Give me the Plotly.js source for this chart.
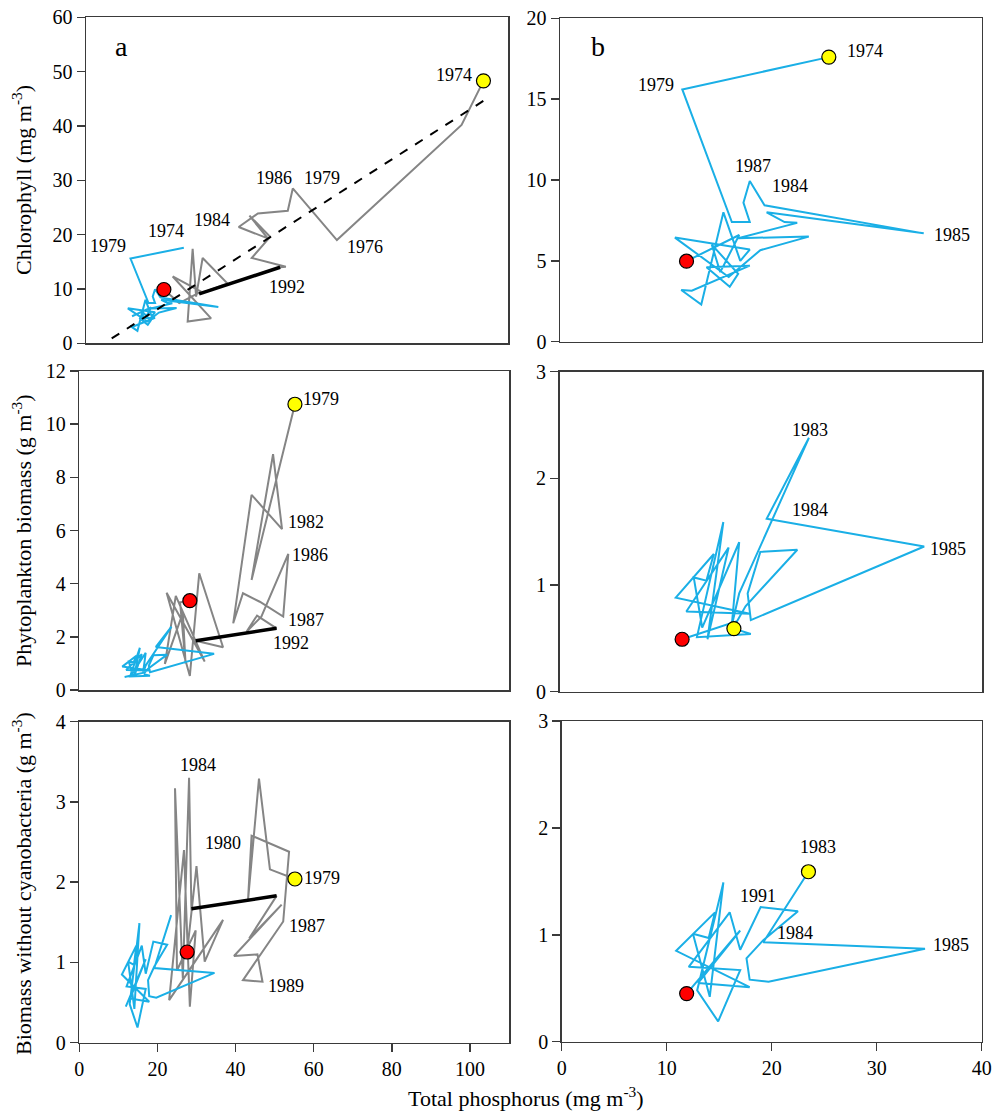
<!DOCTYPE html>
<html><head><meta charset="utf-8">
<script src="https://cdn.plot.ly/plotly-3.0.1.min.js"></script>
<style>html,body{margin:0;padding:0;background:#fff}</style>
</head><body><div id="chart" style="width:996px;height:1114px"></div>
<script>
// ---- Lake b (blue) trajectories, reused in panels a ----
const blueTP_chl = [25.5, 11.6, 16.3, 18.0, 17.4, 18.0, 19.4, 34.5, 19.6, 21.3, 22.5, 16.9, 23.6, 19.0, 16.0, 10.9, 18.0, 17.1, 15.5, 13.4, 11.5, 12.5, 18.0, 13.9, 16.1, 16.9, 14.4, 15.2, 17.0, 12.0];
const blueChl    = [17.6, 15.6, 7.4, 7.4, 8.6, 9.94, 8.44, 6.7, 8.0, 7.4, 7.35, 6.4, 6.5, 5.66, 4.0, 6.44, 5.7, 5.0, 8.0, 2.3, 3.2, 3.15, 4.7, 4.6, 3.4, 4.2, 6.0, 4.3, 6.6, 4.98];

const blueTP_bio = [16.5, 18.1, 13.0, 15.5, 14.0, 16.0, 12.0, 18.0, 11.0, 14.6, 13.9, 12.7, 13.5, 17.0, 16.3, 17.0, 23.6, 19.6, 34.5, 18.1, 17.8, 19.0, 22.5, 17.6, 16.8, 11.6];
const blueBio    = [0.59, 0.54, 0.51, 1.59, 0.49, 1.35, 0.75, 0.73, 0.88, 1.29, 1.04, 1.07, 0.60, 1.40, 0.62, 0.92, 2.38, 1.62, 1.36, 0.67, 0.92, 1.31, 1.33, 0.80, 0.66, 0.49];

const blueTP_nc  = [23.5, 19.2, 34.6, 19.7, 17.9, 17.6, 19.2, 22.5, 18.95, 17.0, 16.0, 12.1, 17.0, 14.9, 12.9, 15.4, 14.1, 12.5, 14.0, 14.6, 10.9, 17.9, 13.0, 17.0, 11.9];
const blueNc     = [1.59, 0.93, 0.87, 0.56, 0.58, 0.78, 0.95, 1.22, 1.26, 0.86, 1.21, 0.70, 0.67, 0.19, 0.48, 1.49, 0.42, 1.01, 0.97, 1.21, 0.85, 0.51, 0.55, 1.04, 0.45];

// ---- Lake a (grey) trajectories; the black segment joins point k and k+1 ----
const greyTP_chl = [103.6, 97.9, 65.4, 53.9, 52.6, 44.8, 39.8, 47.4, 42.6, 48.0, 43.2, 52.1, 50.6, 29.5, 36.9, 30.4, 28.7, 27.8, 26.5, 32.6, 22.6, 30.0, 24.3, 20.3];
const greyChl    = [48.3, 40.2, 19.0, 28.5, 24.4, 23.9, 21.4, 19.3, 23.5, 19.6, 15.7, 14.1, 14.0, 9.1, 11.0, 15.7, 8.6, 17.4, 4.0, 4.6, 12.3, 9.5, 7.4, 9.9];
const blackIdxChl = 12;

const greyTP_bio = [55.2, 44.1, 49.6, 51.9, 44.1, 39.4, 41.9, 46.2, 52.2, 53.5, 46.6, 42.8, 45.5, 50.5, 29.8, 36.8, 30.7, 28.3, 22.35, 32.1, 24.7, 21.9, 26.5, 27.2, 25.8, 28.3];
const greyBio    = [10.75, 4.14, 8.87, 6.05, 7.34, 2.51, 3.64, 3.32, 2.76, 5.12, 2.76, 2.19, 2.8, 2.32, 1.85, 1.61, 4.39, 0.53, 3.66, 1.07, 3.54, 0.98, 2.9, 1.0, 3.3, 3.36];
const blackIdxBio = 13;

const greyTP_nc  = [55.2, 48.8, 46.0, 43.2, 44.1, 53.7, 52.2, 41.9, 46.9, 45.6, 39.6, 51.8, 43.5, 50.5, 28.7, 28.1, 26.5, 24.5, 25.0, 29.8, 28.3, 26.8, 23.0, 36.8, 32.1, 30.0, 27.6];
const greyNc     = [2.04, 2.16, 3.29, 1.78, 2.58, 2.38, 1.51, 0.78, 0.76, 1.10, 1.08, 1.72, 1.30, 1.83, 1.67, 3.30, 0.80, 3.17, 0.90, 1.40, 0.45, 2.40, 0.53, 1.53, 1.01, 2.20, 1.13];
const blackIdxNc = 13;

// regression line (panel a, chlorophyll)
const regTP  = [6.7, 104.0];
const regChl = [0.9, 44.8];

// year labels [text, TP, value]
const labelsTL = [['1974',95.8,49.4],['1986',49.0,30.4],['1979',61.4,30.4],['1984',32.8,22.7],['1974',20.9,20.6],['1979',5.8,17.9],['1976',72.7,17.8],['1992',52.3,10.4]];
const labelsTR = [['1974',28.9,17.96],['1979',9.1,15.9],['1987',18.3,10.85],['1984',21.8,9.6],['1985',37.2,6.57]];
const labelsML = [['1979',62.0,10.94],['1982',58.0,6.33],['1986',59.0,5.08],['1987',58.0,2.63],['1992',54.1,1.78]];
const labelsMR = [['1983',23.7,2.45],['1984',23.7,1.70],['1985',36.8,1.34]];
const labelsBL = [['1984',30.3,3.46],['1980',36.7,2.49],['1979',62.2,2.05],['1987',58.3,1.46],['1989',53.0,0.71]];
const labelsBR = [['1983',24.4,1.82],['1991',18.7,1.36],['1984',22.2,1.02],['1985',37.1,0.90]];

const FONT = 'Liberation Serif';
const BLUE = '#1AAFE6', GREY = '#858585';
const traces = [];
function line(x, y, n, color, width, dash) {
  traces.push({x: x, y: y, xaxis: 'x' + (n === 1 ? '' : n), yaxis: 'y' + (n === 1 ? '' : n),
    type: 'scatter', mode: 'lines', line: {color: color, width: width, dash: dash || 'solid'},
    hoverinfo: 'skip', showlegend: false});
}
function dot(x, y, n, color) {
  traces.push({x: [x], y: [y], xaxis: 'x' + (n === 1 ? '' : n), yaxis: 'y' + (n === 1 ? '' : n),
    type: 'scatter', mode: 'markers', marker: {color: color, size: 14, line: {color: '#000', width: 1.2}},
    hoverinfo: 'skip', showlegend: false});
}
function greyPanel(tp, v, k, n) {
  line(tp, v, n, GREY, 2);
  line([tp[k], tp[k+1]], [v[k], v[k+1]], n, '#000', 3.5);
}
const last = a => a[a.length - 1];

// panel a chlorophyll
greyPanel(greyTP_chl, greyChl, blackIdxChl, 1);
line(blueTP_chl, blueChl, 1, BLUE, 2);
line(regTP, regChl, 1, '#000', 2, 'dash');
dot(greyTP_chl[0], greyChl[0], 1, '#FFFF00');
dot(last(greyTP_chl), last(greyChl), 1, '#FF0000');
// panel b chlorophyll
line(blueTP_chl, blueChl, 2, BLUE, 2);
dot(blueTP_chl[0], blueChl[0], 2, '#FFFF00');
dot(last(blueTP_chl), last(blueChl), 2, '#FF0000');
// panel a biomass
greyPanel(greyTP_bio, greyBio, blackIdxBio, 3);
line(blueTP_bio, blueBio, 3, BLUE, 2);
dot(greyTP_bio[0], greyBio[0], 3, '#FFFF00');
dot(last(greyTP_bio), last(greyBio), 3, '#FF0000');
// panel b biomass
line(blueTP_bio, blueBio, 4, BLUE, 2);
dot(blueTP_bio[0], blueBio[0], 4, '#FFFF00');
dot(last(blueTP_bio), last(blueBio), 4, '#FF0000');
// panel a biomass without cyanobacteria
greyPanel(greyTP_nc, greyNc, blackIdxNc, 5);
line(blueTP_nc, blueNc, 5, BLUE, 2);
dot(greyTP_nc[0], greyNc[0], 5, '#FFFF00');
dot(last(greyTP_nc), last(greyNc), 5, '#FF0000');
// panel b biomass without cyanobacteria
line(blueTP_nc, blueNc, 6, BLUE, 2);
dot(blueTP_nc[0], blueNc[0], 6, '#FFFF00');
dot(last(blueTP_nc), last(blueNc), 6, '#FF0000');

const W = 996, H = 1114;
function dx(a, b) { return [a / W, b / W]; }
function dy(top, bottom) { return [1 - bottom / H, 1 - top / H]; }
function axis(domain, range, dtick, labels, anchor) {
  return {domain: domain, range: range, dtick: dtick, tick0: 0, anchor: anchor,
    showline: true, mirror: true, linecolor: '#3a3a3a', linewidth: 1.5,
    ticks: labels ? 'outside' : '', ticklen: 8, tickwidth: 1.5, tickcolor: '#3a3a3a',
    showticklabels: labels, showgrid: false, zeroline: false, fixedrange: true,
    tickfont: {family: FONT, size: 20, color: '#000'}};
}
const layout = {
  width: W, height: H, margin: {l: 0, r: 0, t: 0, b: 0},
  font: {family: FONT},
  paper_bgcolor: '#fff', plot_bgcolor: '#fff', showlegend: false,
  xaxis:  axis(dx(86, 508),     [0, 110], 20, false, 'y'),
  yaxis:  axis(dy(17.3, 343.3), [0, 60], 10, true, 'x'),
  xaxis2: axis(dx(560, 981.7),  [0, 40], 10, false, 'y2'),
  yaxis2: axis(dy(18.3, 341.7), [0, 20], 5, true, 'x2'),
  xaxis3: axis(dx(79.3, 509),   [0, 110], 20, false, 'y3'),
  yaxis3: axis(dy(371, 690),    [0, 12], 2, true, 'x3'),
  xaxis4: axis(dx(559.5, 982.3),[0, 40], 10, false, 'y4'),
  yaxis4: axis(dy(371.7, 691.5),[0, 3], 1, true, 'x4'),
  xaxis5: axis(dx(79.3, 509),   [0, 110], 20, true, 'y5'),
  yaxis5: axis(dy(721.7, 1042.7),[0, 4], 1, true, 'x5'),
  xaxis6: axis(dx(561.7, 981.7),[0, 40], 10, true, 'y6'),
  yaxis6: axis(dy(721, 1041.7), [0, 3], 1, true, 'x6'),
  annotations: []
};
function addLabels(list, n) {
  const s = n === 1 ? '' : n;
  list.forEach(l => layout.annotations.push({text: l[0], x: l[1], y: l[2], xref: 'x' + s, yref: 'y' + s,
    xanchor: 'center', yanchor: 'middle',
    showarrow: false, font: {family: FONT, size: 18, color: '#000'}}));
}
addLabels(labelsTL, 1); addLabels(labelsTR, 2); addLabels(labelsML, 3);
addLabels(labelsMR, 4); addLabels(labelsBL, 5); addLabels(labelsBR, 6);
function paperText(text, px, py, size, angle) {
  layout.annotations.push({text: text, x: px / W, y: 1 - py / H, xref: 'paper', yref: 'paper',
    xanchor: 'center', yanchor: 'middle',
    showarrow: false, textangle: angle || 0, font: {family: FONT, size: size, color: '#000'}});
}
paperText('a', 121, 47, 28);
paperText('b', 598, 47, 28);
paperText('Chlorophyll (mg m<sup>-3</sup>)', 22, 180, 22, -90);
paperText('Phytoplankton biomass (g m<sup>-3</sup>)', 22, 531, 22, -90);
paperText('Biomass without cyanobacteria (g m<sup>-3</sup>)', 22, 884, 22, -90);
paperText('Total phosphorus (mg m<sup>-3</sup>)', 526, 1097, 22, 0);

Plotly.newPlot('chart', traces, layout, {staticPlot: true, displayModeBar: false});
</script></body></html>
